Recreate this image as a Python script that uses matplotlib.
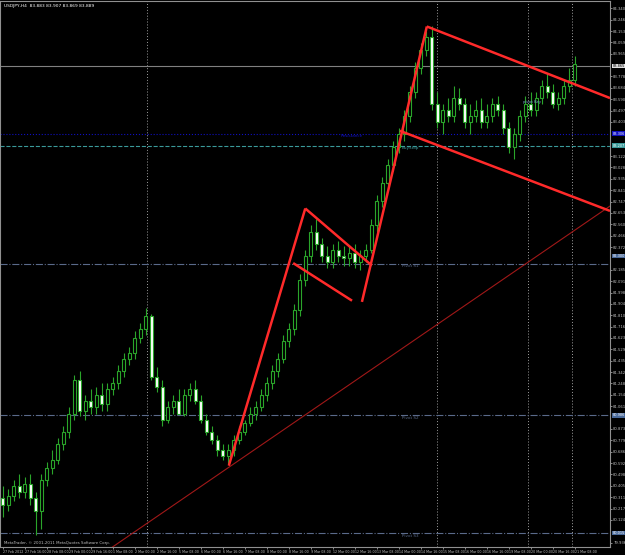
import matplotlib
matplotlib.use('Agg')
import matplotlib.pyplot as plt
import numpy as np

# OHLC (H4 bars)
opens = [80.30, 80.25, 80.32, 80.40, 80.35, 80.42, 80.30, 80.20, 80.45, 80.55, 80.62, 80.75, 80.85, 81.00, 81.28,
         81.02, 81.10, 81.05, 81.15, 81.08, 81.20, 81.25, 81.35, 81.45, 81.50, 81.62, 81.70, 81.80, 81.30, 81.22,
         80.95, 81.05, 81.10, 81.00, 81.15, 81.20, 81.10, 80.95, 80.85, 80.78, 80.70, 80.65, 80.70, 80.78, 80.85,
         80.92, 81.00, 81.05, 81.15, 81.25, 81.35, 81.45, 81.60, 81.70, 81.85, 82.10, 82.30, 82.50, 82.40, 82.30,
         82.25, 82.35, 82.30, 82.28, 82.32, 82.25, 82.30, 82.35, 82.55, 82.75, 82.90, 83.05, 83.20, 83.30, 83.45,
         83.65, 83.85, 84.00, 84.10, 83.55, 83.40, 83.50, 83.45, 83.60, 83.55, 83.40, 83.45, 83.50, 83.40, 83.45,
         83.55, 83.50, 83.35, 83.20, 83.30, 83.45, 83.55, 83.50, 83.60, 83.70, 83.65, 83.55, 83.60, 83.70, 83.75]
highs = [80.40, 80.38, 80.45, 80.50, 80.48, 80.50, 80.35, 80.50, 80.60, 80.70, 80.80, 80.90, 81.05, 81.32, 81.35,
         81.15, 81.20, 81.22, 81.25, 81.25, 81.30, 81.40, 81.50, 81.55, 81.68, 81.75, 81.87, 81.82, 81.38, 81.28,
         81.10, 81.15, 81.20, 81.20, 81.25, 81.28, 81.15, 81.00, 80.90, 80.82, 80.75, 80.75, 80.82, 80.90, 80.95,
         81.05, 81.10, 81.20, 81.30, 81.40, 81.50, 81.65, 81.75, 81.90, 82.15, 82.35, 82.55, 82.60, 82.45, 82.38,
         82.40, 82.42, 82.38, 82.38, 82.40, 82.35, 82.40, 82.60, 82.80, 82.95, 83.10, 83.25, 83.35, 83.50, 83.70,
         83.90, 84.05, 84.15, 84.19, 83.65, 83.55, 83.60, 83.70, 83.68, 83.60, 83.55, 83.58, 83.60, 83.55, 83.60,
         83.62, 83.55, 83.40, 83.35, 83.50, 83.62, 83.65, 83.65, 83.75, 83.80, 83.72, 83.65, 83.75, 83.85, 83.95]
lows = [80.15, 80.20, 80.28, 80.30, 80.30, 80.25, 80.00, 80.05, 80.40, 80.50, 80.58, 80.70, 80.80, 80.95, 80.98,
        80.95, 81.00, 81.00, 81.02, 81.02, 81.15, 81.20, 81.30, 81.40, 81.45, 81.58, 81.65, 81.28, 81.18, 80.90,
        80.92, 81.00, 81.00, 80.98, 81.10, 81.08, 80.92, 80.82, 80.75, 80.65, 80.62, 80.58, 80.65, 80.75, 80.82,
        80.90, 80.95, 81.02, 81.10, 81.20, 81.30, 81.42, 81.55, 81.65, 81.80, 82.05, 82.25, 82.35, 82.25, 82.20,
        82.20, 82.25, 82.22, 82.22, 82.20, 82.18, 82.25, 82.32, 82.50, 82.70, 82.85, 83.00, 83.15, 83.25, 83.40,
        83.60, 83.80, 83.95, 83.50, 83.35, 83.30, 83.40, 83.40, 83.50, 83.35, 83.30, 83.40, 83.35, 83.35, 83.40,
        83.45, 83.30, 83.15, 83.10, 83.25, 83.40, 83.45, 83.45, 83.55, 83.60, 83.52, 83.50, 83.55, 83.65, 83.70]
closes = [80.25, 80.32, 80.40, 80.35, 80.42, 80.30, 80.20, 80.45, 80.55, 80.62, 80.75, 80.85, 81.00, 81.28, 81.02,
          81.10, 81.05, 81.15, 81.08, 81.20, 81.25, 81.35, 81.45, 81.50, 81.62, 81.70, 81.80, 81.30, 81.22, 80.95,
          81.05, 81.10, 81.00, 81.15, 81.20, 81.10, 80.95, 80.85, 80.78, 80.70, 80.65, 80.70, 80.78, 80.85, 80.92,
          81.00, 81.05, 81.15, 81.25, 81.35, 81.45, 81.60, 81.70, 81.85, 82.10, 82.30, 82.50, 82.40, 82.30, 82.25,
          82.35, 82.30, 82.28, 82.32, 82.25, 82.30, 82.35, 82.55, 82.75, 82.90, 83.05, 83.20, 83.30, 83.45, 83.65,
          83.85, 84.00, 84.10, 83.55, 83.40, 83.50, 83.45, 83.60, 83.55, 83.40, 83.45, 83.50, 83.40, 83.45, 83.55,
          83.50, 83.35, 83.20, 83.30, 83.45, 83.55, 83.50, 83.60, 83.70, 83.65, 83.55, 83.60, 83.70, 83.75, 83.88]

date_labels = ['27 Feb 2012', '27 Feb 16:00', '28 Feb 08:00', '29 Feb 00:00', '29 Feb 16:00', '1 Mar 08:00',
               '2 Mar 00:00', '2 Mar 16:00', '5 Mar 08:00', '6 Mar 00:00', '6 Mar 16:00', '7 Mar 08:00',
               '8 Mar 00:00', '8 Mar 16:00', '9 Mar 08:00', '12 Mar 00:00', '12 Mar 16:00', '13 Mar 08:00',
               '14 Mar 00:00', '14 Mar 16:00', '15 Mar 08:00', '16 Mar 00:00', '16 Mar 16:00', '19 Mar 08:00',
               '20 Mar 00:00', '20 Mar 16:00', '21 Mar 08:00']

# horizontal levels: (price, colour, style, label)
levels = [(83.865, '#808080', '-', ''),
          (83.306, '#1010c0', ':', 'Resistance'),
          (83.207, '#3a9a9a', '--', 'BuyStop'),
          (82.236, '#5a6a8a', '-.', 'Pivot S1'),
          (80.986, '#5a6a8a', '-.', 'Pivot S2'),
          (80.015, '#5a6a8a', '-.', 'Pivot S3')]

# price boxes on the right axis
boxes = [(83.865, '#e0e0e0'), (83.306, '#1010c0'), (83.207, '#3a9a9a'), (82.30, '#4a6a9a'),
         (80.986, '#4a6a9a'), (80.015, '#4a6a9a')]

# red trend lines in (bar, price)
trend_lines = [((41.1, 80.57), (55.0, 82.69)),
               ((55.0, 82.69), (67.1, 82.22)),
               ((52.8, 82.24), (63.5, 81.93)),
               ((65.3, 81.92), (77.1, 84.19)),
               ((77.1, 84.19), (110.4, 83.60)),
               ((72.2, 83.33), (110.4, 82.67))]
long_line = ((17.7, 79.83), (110.4, 82.71))
separators = [26.2, 79.0, 95.5, 103.5]

green = '#2aa52a'
fig = plt.figure(figsize=(6.25, 5.55), dpi=100)
fig.set_facecolor('black')
ax = fig.add_axes([0, 8 / 555, 610 / 625, 546 / 555])
ax.set_facecolor('black')

x = np.arange(len(opens))
for i in x:
    o, h, l, c = opens[i], highs[i], lows[i], closes[i]
    lo_b, hi_b = min(o, c), max(o, c)
    ax.vlines(i, l, lo_b, color=green, lw=0.8, zorder=3)
    ax.vlines(i, hi_b, h, color=green, lw=0.8, zorder=3)
    face = 'black' if c >= o else 'white'
    ax.add_patch(plt.Rectangle((i - 0.3, lo_b), 0.6, max(hi_b - lo_b, 0.004),
                               facecolor=face, edgecolor=green, lw=0.8, zorder=4))

for s in separators:
    ax.axvline(s, color='#a0a0a0', ls=(0, (1, 2)), lw=0.7, zorder=1)

for p, col, st, lab in levels:
    ax.axhline(p, color=col, ls=st, lw=0.8, zorder=2)
    if lab:
        ax.text(72.5 if lab != 'Resistance' else 61.5, p - 0.005, lab, color=col, fontsize=3.0,
                va='top', zorder=6)

ax.plot(*zip(*long_line), color='#a01818', lw=0.8, zorder=5)
for a, b in trend_lines:
    ax.plot([a[0], b[0]], [a[1], b[1]], color='#ff2a2a', lw=1.8, solid_capstyle='butt', zorder=6)

ax.text(94.5, 83.56, 'pivot Key', color='#7aa0d0', fontsize=2.8, zorder=6)
ax.text(0.3, 84.36, 'USDJPY,H4  83.883 83.907 83.869 83.889', color='white', fontsize=3.2, va='center')
ax.text(0.3, 79.915, 'MetaTrader, © 2001-2011 MetaQuotes Software Corp.', color='#c0c0c0', fontsize=2.8,
        va='bottom')

ax.set_xlim(-0.5, 110.4)
ax.set_ylim(79.90, 84.40)

ax.yaxis.tick_right()
yt = [v for v in np.arange(84.340, 79.90, -0.0937) if min(abs(v - b[0]) for b in boxes) > 0.045]
ax.set_yticks(yt)
ax.set_yticklabels(['%.3f' % v for v in yt])
ax.set_xticks(np.arange(len(date_labels)) * 4)
ax.set_xticklabels(date_labels)
ax.tick_params(axis='y', colors='#c0c0c0', labelsize=2.7, length=1.5, width=0.5, pad=0.8)
ax.tick_params(axis='x', colors='#c0c0c0', labelsize=2.3, length=1.5, width=0.5, pad=0.8)
for lab in ax.get_xticklabels():
    lab.set_horizontalalignment('left')
for sp in ax.spines.values():
    sp.set_color('#909090')
    sp.set_linewidth(0.8)

for p, col in boxes:
    ax.text(1.004, (p - 79.90) / 4.5, '%.3f' % p, transform=ax.transAxes, fontsize=2.5,
            color='black' if col == '#e0e0e0' else 'white', va='center', ha='left',
            bbox=dict(boxstyle='square,pad=0.08', fc=col, ec='none'), clip_on=False)

plt.savefig('out.png', dpi=100, facecolor='black')
